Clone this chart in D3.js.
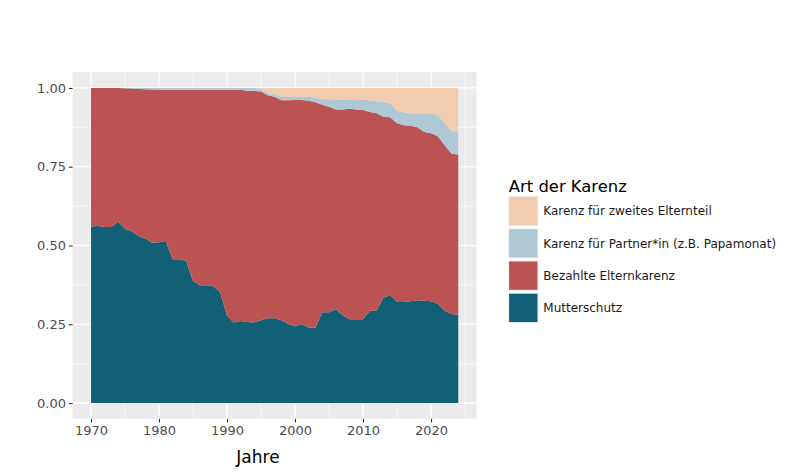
<!DOCTYPE html>
<html><head><meta charset="utf-8">
<script src="https://cdn.jsdelivr.net/npm/d3@7"></script>
<style>body{margin:0;background:#fff}svg{display:block}</style>
</head><body>
<svg id="chart" width="794" height="476"></svg>
<script>
const years = d3.range(1970, 2025);
const mutterschutz = [0.560,0.562,0.559,0.559,0.575,0.553,0.545,0.530,0.522,0.509,
0.510,0.514,0.456,0.456,0.451,0.387,0.374,0.374,0.371,0.352,
0.277,0.256,0.260,0.257,0.256,0.263,0.269,0.269,0.263,0.251,
0.244,0.250,0.240,0.239,0.288,0.288,0.298,0.279,0.266,0.266,
0.266,0.293,0.293,0.334,0.343,0.321,0.321,0.323,0.326,0.325,
0.323,0.315,0.293,0.283,0.280];
const bezahlteKarenz = [0.440,0.438,0.441,0.441,0.425,0.446,0.453,0.467,0.474,0.486,
0.485,0.480,0.538,0.538,0.543,0.607,0.620,0.620,0.623,0.642,
0.717,0.738,0.734,0.734,0.734,0.726,0.708,0.703,0.698,0.710,
0.718,0.712,0.719,0.716,0.659,0.652,0.634,0.653,0.668,0.666,
0.664,0.631,0.627,0.575,0.564,0.567,0.561,0.557,0.549,0.535,
0.533,0.532,0.525,0.508,0.509];
const partnerKarenz = [0,0,0,0,0,0.001,0.002,0.003,0.004,0.005,
0.005,0.006,0.006,0.006,0.006,0.006,0.006,0.006,0.006,0.006,
0.006,0.006,0.006,0.009,0.010,0.007,0.007,0.008,0.010,0.010,
0.010,0.010,0.013,0.014,0.019,0.024,0.031,0.030,0.030,0.032,
0.033,0.036,0.038,0.046,0.044,0.040,0.040,0.040,0.045,0.060,
0.064,0.066,0.071,0.072,0.073];
const zweitesElternteil = [0,0,0,0,0,0,0,0,0,0,
0,0,0,0,0,0,0,0,0,0,
0,0,0,0,0,0.004,0.016,0.020,0.029,0.029,
0.028,0.028,0.028,0.031,0.034,0.036,0.037,0.038,0.036,0.036,
0.037,0.040,0.042,0.045,0.049,0.072,0.078,0.080,0.080,0.080,
0.080,0.087,0.111,0.137,0.138];
const seriesKeys = ["Mutterschutz","Bezahlte Elternkarenz","Karenz für Partner*in (z.B. Papamonat)","Karenz für zweites Elternteil"];
const seriesValues = [mutterschutz, bezahlteKarenz, partnerKarenz, zweitesElternteil];
const seriesColors = ["#126076","#BA5352","#AEC8D5","#F1CCAF"];
const xTicks = [1970,1980,1990,2000,2010,2020];
const yTicks = [0,0.25,0.5,0.75,1];
const yTickLabels = ["0.00","0.25","0.50","0.75","1.00"];
const legendTitle = "Art der Karenz";
const xTitle = "Jahre";

const rows = years.map((y,i)=>{const r={year:y}; seriesKeys.forEach((k,j)=>r[k]=seriesValues[j][i]); return r;});
const stacked = d3.stack().keys(seriesKeys)(rows);

const svg = d3.select("#chart");
const P = {l:72.6, r:476.6, t:72.2, b:418.8};
const x = d3.scaleLinear().domain([1970-2.7, 2024+2.7]).range([P.l, P.r]);
const y = d3.scaleLinear().domain([-0.05, 1.05]).range([P.b, P.t]);
const FONT = "DejaVu Sans, Verdana, sans-serif";

svg.append("rect").attr("x",P.l).attr("y",P.t).attr("width",P.r-P.l).attr("height",P.b-P.t).attr("fill","#EBEBEB");
const g = svg.append("g");
[1975,1985,1995,2005,2015,2025].forEach(v=>g.append("line").attr("x1",x(v)).attr("x2",x(v)).attr("y1",P.t).attr("y2",P.b).attr("stroke","#fff").attr("stroke-width",0.6));
[0.125,0.375,0.625,0.875].forEach(v=>g.append("line").attr("x1",P.l).attr("x2",P.r).attr("y1",y(v)).attr("y2",y(v)).attr("stroke","#fff").attr("stroke-width",0.6));
xTicks.forEach(v=>g.append("line").attr("x1",x(v)).attr("x2",x(v)).attr("y1",P.t).attr("y2",P.b).attr("stroke","#fff").attr("stroke-width",1.2));
yTicks.forEach(v=>g.append("line").attr("x1",P.l).attr("x2",P.r).attr("y1",y(v)).attr("y2",y(v)).attr("stroke","#fff").attr("stroke-width",1.2));

const area = d3.area().x(d=>x(d.data.year)).y0(d=>y(d[0])).y1(d=>y(d[1]));
svg.append("g").selectAll("path").data(stacked).join("path")
  .attr("d",area).attr("fill",(d,i)=>seriesColors[i]);

const xAxis = d3.axisBottom(x).tickValues(xTicks).tickFormat(d3.format("d")).tickSize(3.7).tickPadding(2.9);
const xa = svg.append("g").attr("transform",`translate(0,${P.b})`).call(xAxis);
const yAxis = d3.axisLeft(y).tickValues(yTicks).tickFormat((d,i)=>yTickLabels[i]).tickSize(3.7).tickPadding(2.9);
const ya = svg.append("g").attr("transform",`translate(${P.l},0)`).call(yAxis);
[xa,ya].forEach(a=>{a.select(".domain").remove(); a.selectAll(".tick line").attr("stroke","#333").attr("stroke-width",1.1);
  a.selectAll("text").attr("fill","#4D4D4D").attr("font-family",FONT).attr("font-size",13);});

svg.append("text").attr("x",258).attr("y",463).attr("text-anchor","middle").attr("font-family",FONT).attr("font-size",17).attr("fill","#000").text(xTitle);

const lg = svg.append("g").attr("transform","translate(508.3,0)");
lg.append("text").attr("x",0.5).attr("y",192).attr("font-family",FONT).attr("font-size",16.4).attr("fill","#000").text(legendTitle);
const order = [3,2,1,0];
order.forEach((si,i)=>{
  const yy = 196 + i*32.3;
  lg.append("rect").attr("x",0).attr("y",yy).attr("width",30).attr("height",30).attr("fill","#F2F2F2");
  lg.append("rect").attr("x",0.8).attr("y",yy+0.8).attr("width",28.4).attr("height",28.4).attr("fill",seriesColors[si]);
  lg.append("text").attr("x",35).attr("y",yy+15).attr("dy","0.35em").attr("font-family",FONT).attr("font-size",12).attr("fill","#1A1A1A").text(seriesKeys[si]);
});
</script>
</body></html>
